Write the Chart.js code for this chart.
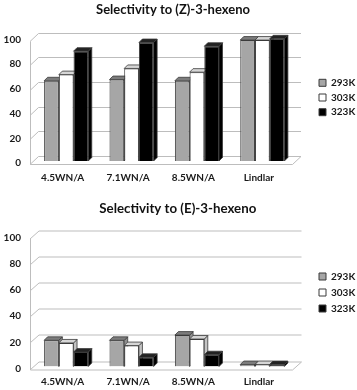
<!DOCTYPE html>
<html><head><meta charset="utf-8">
<script src="https://cdn.jsdelivr.net/npm/chart.js@4.4.0/dist/chart.umd.min.js"></script>
<style>html,body{margin:0;padding:0;background:#fff;width:357px;height:390px;overflow:hidden}canvas{display:block}</style>
</head><body>
<canvas id="c1" width="357" height="195"></canvas>
<canvas id="c2" width="357" height="195"></canvas>
<script>
// ---- data ----
const categories = ['4.5WN/A', '7.1WN/A', '8.5WN/A', 'Lindlar'];
const seriesNames = ['293K', '303K', '323K'];
const yTicks = [0, 20, 40, 60, 80, 100];
const titleZ = 'Selectivity to (Z)-3-hexeno';
const titleE = 'Selectivity to (E)-3-hexeno';
const z293 = [65, 66, 65, 98];
const z303 = [70, 75, 72, 98];
const z323 = [89, 96, 93, 99];
const e293 = [20, 20, 24, 1.5];
const e303 = [18, 16, 21, 1.5];
const e323 = [11, 7, 9, 1.5];

// ---- styles ----
const FONT = 'Lato';
const TXT = '#1a1a1a';
const frontCol = ['#a6a6a6', '#ffffff', '#000000'];
const topCol = ['#7c7c7c', '#d6d6d6', '#222222'];
const sideCol = ['#8e8e8e', '#c4c4c4', '#000000'];
const edgeCol = '#3a3a3a';

const depth3d = {
  id: 'depth3d',
  beforeLayout(chart, args, o) {
    const lg = chart.legend;
    if (lg && !lg._fixedW) {
      const orig = lg.fit;
      lg.fit = function () { orig.call(this); this.width = o.legendW; };
      lg._fixedW = true;
    }
  },
  beforeDatasetsDraw(chart, args, o) {
    const {ctx, chartArea: {left: L, right: R}, scales: {y}} = chart;
    const y0 = y.getPixelForValue(0);
    ctx.save();
    ctx.strokeStyle = '#bdbdbd';
    ctx.lineWidth = 1;
    y.ticks.forEach(t => {
      const py = Math.round(y.getPixelForValue(t.value)) + 0.5;
      ctx.beginPath();
      ctx.moveTo(L - o.fx, py + o.fy);
      ctx.lineTo(L + o.bx, py - o.by);
      ctx.lineTo(R + o.bx + o.ex, py - o.by);
      ctx.stroke();
    });
    const yTop = Math.round(y.getPixelForValue(y.max)) + 0.5;
    const yb = Math.round(y0) + 0.5;
    ctx.beginPath();
    ctx.moveTo(Math.round(L - o.fx) + 0.5, yTop + o.fy);
    ctx.lineTo(Math.round(L - o.fx) + 0.5, yb + o.fy);
    ctx.lineTo(R - o.fx + o.ex, yb + o.fy);
    ctx.lineTo(R + o.bx + o.ex, yb - o.by);
    ctx.stroke();
    // bar depth faces
    const d = o.d;
    chart.data.datasets.forEach((ds, i) => {
      const meta = chart.getDatasetMeta(i);
      meta.data.forEach(bar => {
        const p = bar.getProps(['x', 'y', 'base', 'width'], true);
        const l = p.x - p.width / 2, r = p.x + p.width / 2;
        ctx.lineWidth = 0.8;
        ctx.strokeStyle = edgeCol;
        ctx.fillStyle = sideCol[i];
        ctx.beginPath();
        ctx.moveTo(r, p.y); ctx.lineTo(r + d, p.y - d); ctx.lineTo(r + d, p.base - d); ctx.lineTo(r, p.base); ctx.closePath();
        ctx.fill(); ctx.stroke();
        ctx.fillStyle = topCol[i];
        ctx.beginPath();
        ctx.moveTo(l, p.y); ctx.lineTo(l + d, p.y - d); ctx.lineTo(r + d, p.y - d); ctx.lineTo(r, p.y); ctx.closePath();
        ctx.fill(); ctx.stroke();
      });
    });
    ctx.restore();
  }
};

function makeChart(id, title, vals, c) {
  const tickFont = {family: FONT, size: 10, weight: 'bold'};
  return new Chart(document.getElementById(id), {
    type: 'bar',
    data: {
      labels: categories,
      datasets: seriesNames.map((n, i) => ({
        label: n, data: vals[i], backgroundColor: frontCol[i],
        borderColor: edgeCol, borderWidth: 1, xAxisID: 'x', yAxisID: 'y',
        categoryPercentage: 0.675, barPercentage: 1
      }))
    },
    options: {
      responsive: false, animation: false, devicePixelRatio: 1,
      layout: {padding: {left: c.padL, right: 0, top: 0, bottom: 0}},
      plugins: {
        title: {display: true, text: title, color: '#111', font: {family: FONT, size: c.tSize, weight: 'bold'},
          padding: {top: c.tTop, bottom: c.tBot}},
        legend: {position: 'right',
          labels: {boxWidth: 7, boxHeight: 7, padding: c.legPad, color: TXT, font: tickFont}},
        tooltip: {enabled: false},
        depth3d: c.depth
      },
      scales: {
        x: {grid: {display: false, drawTicks: false}, border: {display: false},
          afterFit: s => { s.height = c.xH; },
          ticks: {font: tickFont, color: TXT, padding: c.xPad, labelOffset: -3.5, maxRotation: 0}},
        y: {min: 0, max: 100, position: 'left',
          afterBuildTicks: s => { s.ticks = yTicks.map(v => ({value: v})); },
          afterFit: s => { s.width = 33.5 - c.padL; },
          grid: {display: false, drawTicks: false}, border: {display: false},
          ticks: {font: tickFont, color: TXT, padding: 12.5, labelOffset: 2}},
        gap: {type: 'linear', position: 'right', display: true,
          grid: {display: false, drawTicks: false}, border: {display: false},
          ticks: {display: false},
          afterFit: s => { s.width = c.gapW; }}
      }
    },
    plugins: [depth3d]
  });
}

makeChart('c1', titleZ, [z293, z303, z323], {
  padL: -11, gapW: 19.3, xH: 34, tSize: 13, tTop: 2, tBot: 20, legPad: 4.7, xPad: 11,
  depth: {fx: 3.5, fy: 3, bx: 5, by: 5, ex: 1, d: 3.5, legendW: 42.7}
});
makeChart('c2', titleE, [e293, e303, e323], {
  padL: -1.4, gapW: 18, xH: 23.5, tSize: 13.3, tTop: 5.5, tBot: 19.2, legPad: 6, xPad: 9.2,
  depth: {fx: 3.5, fy: 2.5, bx: 5.5, by: 5.5, ex: 1, d: 3.5, legendW: 44}
});
</script>
</body></html>
